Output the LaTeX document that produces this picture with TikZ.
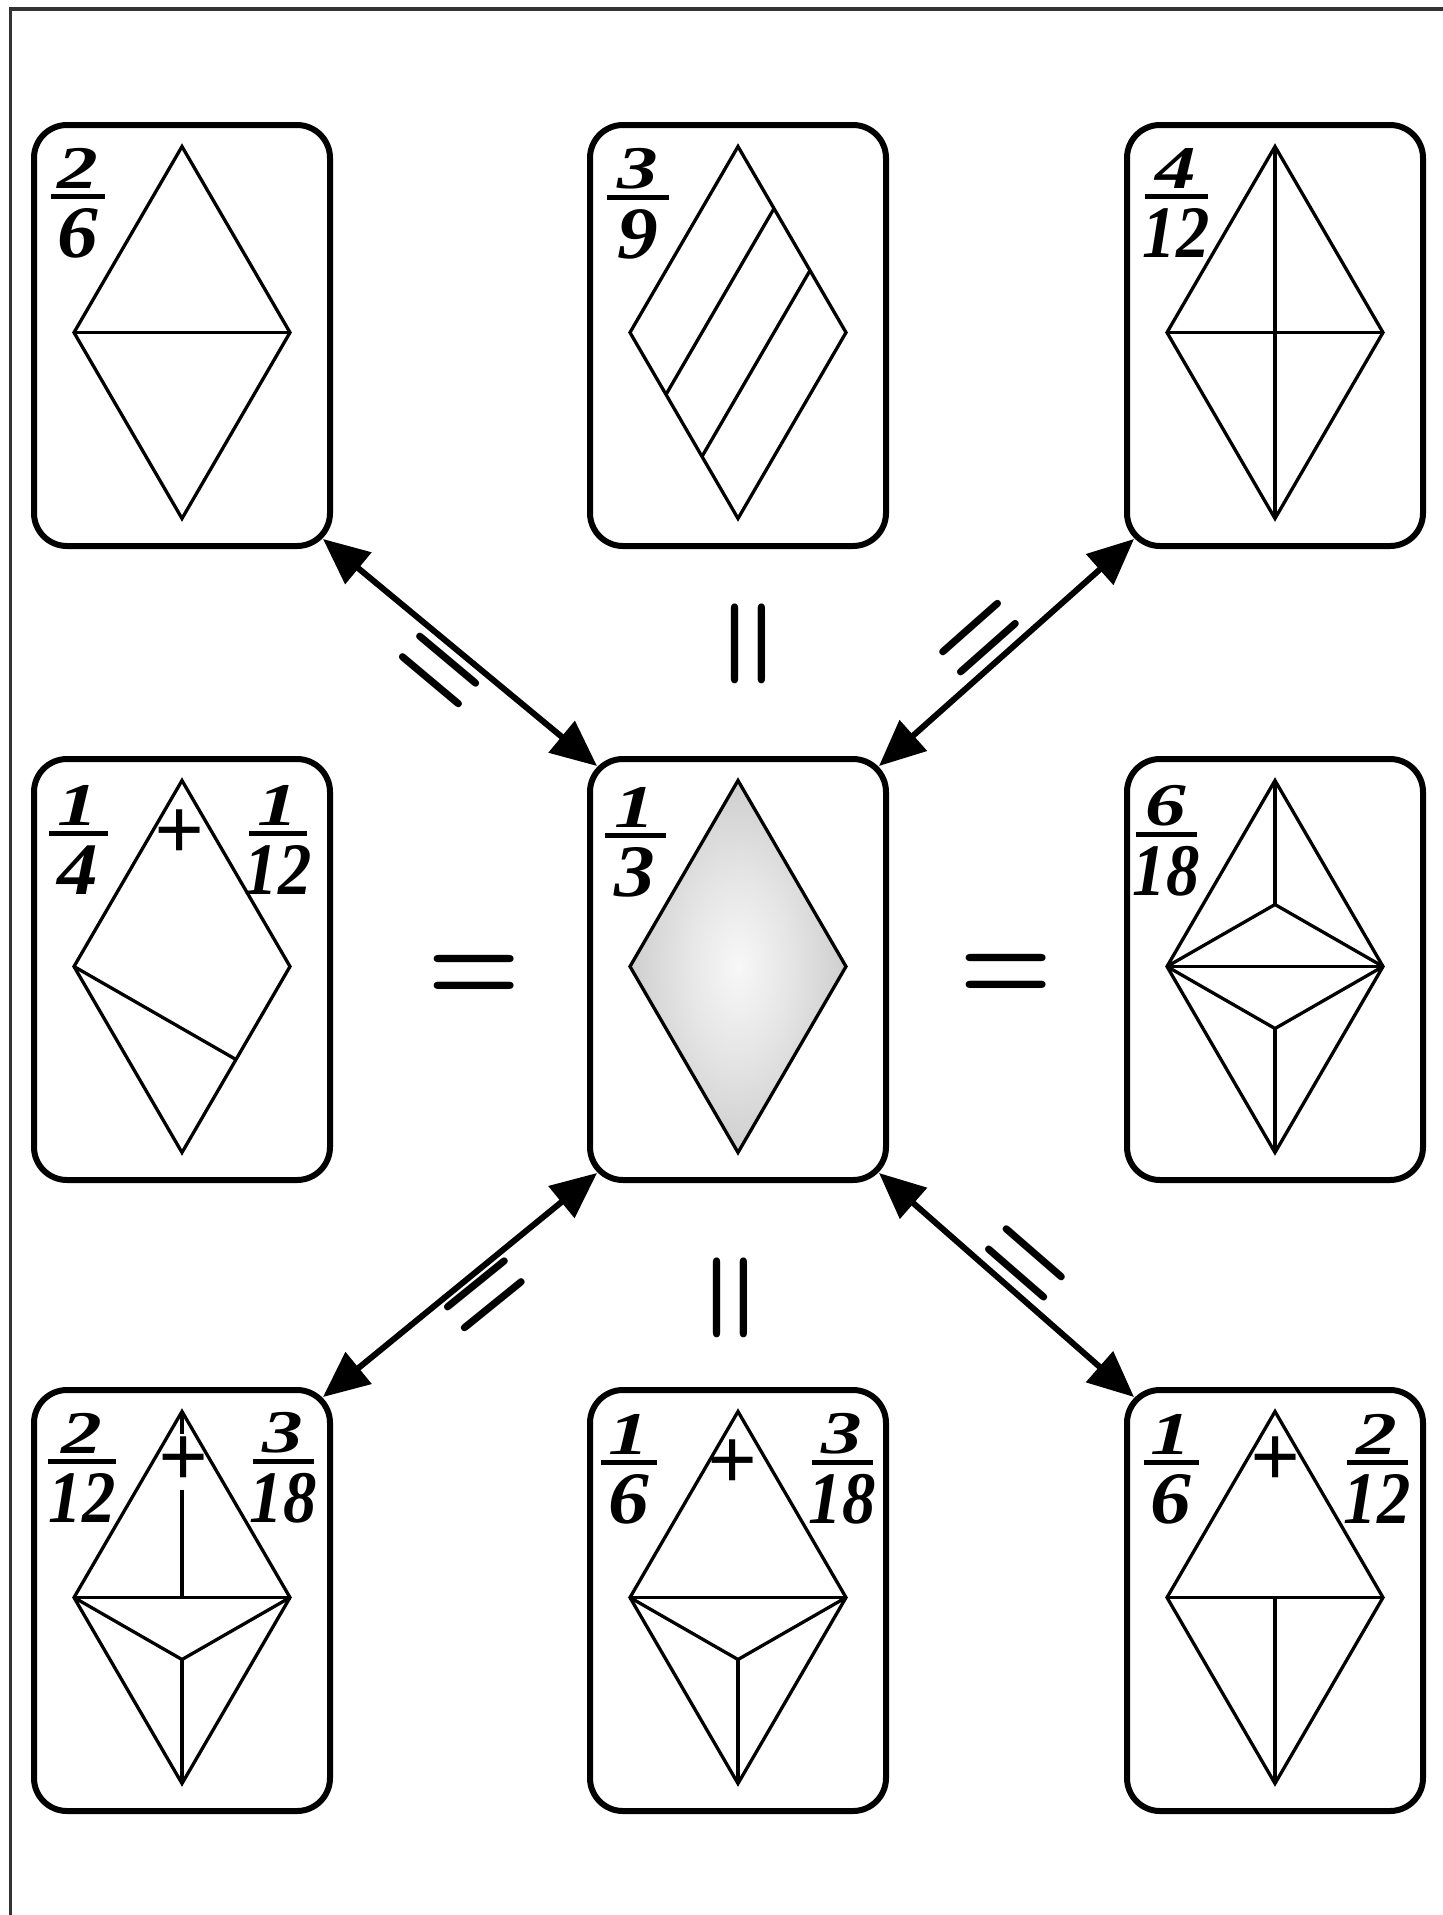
\documentclass[tikz,border=0pt]{standalone}
\usepackage{fontspec}
\setmainfont{Liberation Serif}
\usepackage{graphicx}
\usetikzlibrary{arrows.meta,calc}
\pgfdeclareradialshading{diashade}{\pgfpoint{0bp}{0bp}}{color(0bp)=(black!3); color(12bp)=(black!10); color(35bp)=(black!26); color(50bp)=(black!36)}
% #1 bar width, #2 numerator, #3 denominator, #4 horizontal scale of denominator
\newcommand\fr[4]{\vtop{\offinterlineskip
  \vbox{\halign{\hfil##\hfil\cr\scalebox{1.1}[0.82]{#2}\cr\noalign{\kern5pt}\vrule width #1 height 2.5pt depth 2.5pt\cr}}
  \kern10pt
  \hbox to #1{\hss\scalebox{#4}[1]{#3}\hss}}}
\newcommand\eqglyph{\raisebox{-0.25em}[0.12em][0.12em]{=}}
\begin{document}
\begin{tikzpicture}[x=1pt,y=-1pt,
  card/.style={draw, line width=6pt, rounded corners=33pt, minimum width=296pt, minimum height=421pt, inner sep=0pt, fill=white},
  dia/.style={line width=3.3pt, line join=miter},
  arr/.style={line width=6pt, {Triangle[length=46pt,width=40pt]}-{Triangle[length=46pt,width=40pt]}},
  fraction/.style={anchor=base, inner sep=0pt, font=\fontsize{74pt}{74pt}\selectfont\bfseries\itshape},
  plussign/.style={inner sep=0pt, font=\fontsize{88pt}{88pt}\selectfont\bfseries},
  eqsign/.style={inner sep=0pt, font=\fontfamily{lmr}\fontseries{b}\fontshape{n}\fontsize{120pt}{120pt}\selectfont},
  frame/.style={draw=black!80, line width=3.5pt}]
\useasboundingbox (0,0) rectangle (1443,1915);
\draw[frame] (10.5,1915) -- (10.5,9) -- (1443,9);

% cards
\node[card] (TL) at (182,335.5) {};
\node[card] (TM) at (738,335.5) {};
\node[card] (TR) at (1275,335.5) {};
\node[card] (ML) at (182,969.5) {};
\node[card] (MC) at (738,969.5) {};
\node[card] (MR) at (1275,969.5) {};
\node[card] (BL) at (182,1600.5) {};
\node[card] (BM) at (738,1600.5) {};
\node[card] (BR) at (1275,1600.5) {};

% TL 2/6
\begin{scope}[shift={(182,332.5)}]
\draw[dia] (0,-186) -- (108,0) -- (0,186) -- (-108,0) -- cycle;
\draw[dia] (-108,0) -- (108,0);
\end{scope}
% TM 3/9
\begin{scope}[shift={(738,332.5)}]
\draw[dia] (0,-186) -- (108,0) -- (0,186) -- (-108,0) -- cycle;
\draw[dia] (36,-124) -- (-72,62);
\draw[dia] (72,-62) -- (-36,124);
\end{scope}
% TR 4/12
\begin{scope}[shift={(1275,332.5)}]
\draw[dia] (0,-186) -- (108,0) -- (0,186) -- (-108,0) -- cycle;
\draw[dia] (-108,0) -- (108,0);
\draw[dia] (0,-186) -- (0,186);
\end{scope}
% ML
\begin{scope}[shift={(182,966.5)}]
\draw[dia] (0,-186) -- (108,0) -- (0,186) -- (-108,0) -- cycle;
\draw[dia] (-108,0) -- (54,93);
\end{scope}
% MC
\begin{scope}[shift={(738,966.5)}]
\shade[shading=diashade] (0,-186) -- (108,0) -- (0,186) -- (-108,0) -- cycle;
\draw[dia] (0,-186) -- (108,0) -- (0,186) -- (-108,0) -- cycle;
\end{scope}
% MR
\begin{scope}[shift={(1275,966.5)}]
\draw[dia] (0,-186) -- (108,0) -- (0,186) -- (-108,0) -- cycle;
\draw[dia] (-108,0) -- (108,0);
\draw[dia] (0,-186) -- (0,-62);
\draw[dia] (-108,0) -- (0,-62) -- (108,0);
\draw[dia] (-108,0) -- (0,62) -- (108,0);
\draw[dia] (0,62) -- (0,186);
\end{scope}
% BL
\begin{scope}[shift={(182,1597.5)}]
\draw[dia] (0,-186) -- (108,0) -- (0,186) -- (-108,0) -- cycle;
\draw[dia] (-108,0) -- (108,0);
\draw[dia] (0,-186) -- (0,-164);
\draw[dia] (0,-108) -- (0,0);
\draw[dia] (-108,0) -- (0,62) -- (108,0);
\draw[dia] (0,62) -- (0,186);
\end{scope}
% BM
\begin{scope}[shift={(738,1597.5)}]
\draw[dia] (0,-186) -- (108,0) -- (0,186) -- (-108,0) -- cycle;
\draw[dia] (-108,0) -- (108,0);
\draw[dia] (-108,0) -- (0,62) -- (108,0);
\draw[dia] (0,62) -- (0,186);
\end{scope}
% BR
\begin{scope}[shift={(1275,1597.5)}]
\draw[dia] (0,-186) -- (108,0) -- (0,186) -- (-108,0) -- cycle;
\draw[dia] (-108,0) -- (108,0);
\draw[dia] (0,0) -- (0,186);
\end{scope}

% fractions
\node[fraction] (fTL) at (78,196) {\fr{54pt}{2}{6}{1.1}};
\node[fraction] (fTM) at (638,197) {\fr{62pt}{3}{9}{1.1}};
\node[fraction] (fTR) at (1176,196) {\fr{63pt}{4}{12}{0.9}};
\node[fraction] (fMLa) at (78,833) {\fr{59pt}{1}{4}{1.1}};
\node[fraction] (fMLb) at (278,833) {\fr{58pt}{1}{12}{0.9}};
\node[fraction] (fMC) at (635,835) {\fr{61pt}{1}{3}{1.1}};
\node[fraction] (fMR) at (1166,834) {\fr{61pt}{6}{18}{0.9}};
\node[fraction] (fBLa) at (82,1461) {\fr{68pt}{2}{12}{0.9}};
\node[fraction] (fBLb) at (283,1461) {\fr{61pt}{3}{18}{0.9}};
\node[fraction] (fBMa) at (629,1462) {\fr{56pt}{1}{6}{1.1}};
\node[fraction] (fBMb) at (842,1462) {\fr{61pt}{3}{18}{0.9}};
\node[fraction] (fBRa) at (1171,1462) {\fr{55pt}{1}{6}{1.1}};
\node[fraction] (fBRb) at (1377,1462) {\fr{61pt}{2}{12}{0.9}};

% plus signs
\node[plussign] (pML) at (180,835) {+};
\node[plussign] (pBL) at (184,1461.5) {+};
\node[plussign] (pBM) at (733,1465) {+};
\node[plussign] (pBR) at (1276,1462) {+};

% arrows
\coordinate (aTL) at ($(TL.south east)+(-10,-10)$);
\coordinate (aTR) at ($(TR.south west)+(10,-10)$);
\coordinate (aBL) at ($(BL.north east)+(-10,10)$);
\coordinate (aBR) at ($(BR.north west)+(10,10)$);
\coordinate (cNW) at ($(MC.north west)+(10,10)$);
\coordinate (cNE) at ($(MC.north east)+(-10,10)$);
\coordinate (cSW) at ($(MC.south west)+(10,-10)$);
\coordinate (cSE) at ($(MC.south east)+(-10,-10)$);
\draw[arr] (aTL) -- (cNW);
\draw[arr] (aTR) -- (cNE);
\draw[arr] (aBL) -- (cSW);
\draw[arr] (aBR) -- (cSE);

% equals signs
\node[eqsign, rotate=-40] (eTL) at (440,671) {\eqglyph};
\node[eqsign, rotate=41.5] (eTR) at (980,638) {\eqglyph};
\node[eqsign, rotate=39] (eBL) at (485,1295) {\eqglyph};
\node[eqsign, rotate=-41] (eBR) at (1025,1263) {\eqglyph};
\node[eqsign] (eL) at (474,972) {\eqglyph};
\node[eqsign] (eR) at (1006,971) {\eqglyph};
\node[eqsign, rotate=90] (eT) at (748,644) {\eqglyph};
\node[eqsign, rotate=90] (eB) at (730,1298) {\eqglyph};
\end{tikzpicture}
\end{document}
